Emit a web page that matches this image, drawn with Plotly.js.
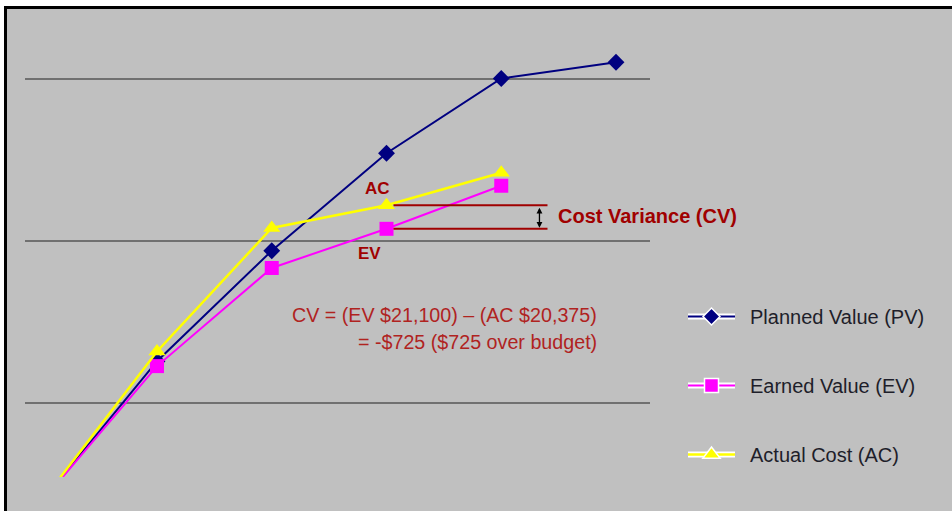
<!DOCTYPE html>
<html>
<head>
<meta charset="utf-8">
<script src="https://cdn.plot.ly/plotly-3.0.1.min.js"></script>
<style>
  html, body { margin: 0; padding: 0; background: #ffffff; width: 952px; height: 511px; overflow: hidden; }
  #frame { position: absolute; left: 4px; top: 6px; border-left: 3px solid #000; border-top: 3px solid #000; }
  #chart { width: 945px; height: 502px; }
</style>
</head>
<body>
<div id="frame"><div id="chart"></div></div>
<script>
// Reporting periods
const periods = [0, 1, 2, 3, 4, 5];

// Cumulative values in dollars
const plannedValue = [12000, 16300, 19700, 22700, 25000, 25500];
const earnedValue  = [12000, 16150, 19170, 20375, 21700];
const actualCost   = [12000, 16600, 20400, 21100, 22100];

// Series names shown in the legend
const seriesNames = ['Planned Value (PV)', 'Earned Value (EV)', 'Actual Cost (AC)'];

// Status date used for the variance callout
const statusPeriod = 3;

const formulaLine1 = 'CV = (EV $21,100) \u2013 (AC $20,375)';
const formulaLine2 = '= -$725 ($725 over budget)';

const FONT = 'Liberation Sans, Arial, Helvetica, sans-serif';
const DARK_RED = '#a00000';

// plot-area geometry inside the chart div
const M = { l: 18, r: 302, t: 11, b: 34 };
const PW = 945 - M.l - M.r, PH = 502 - M.t - M.b;
const px = x => (x - 7 - M.l) / PW;        // page x -> paper fraction
const py = y => 1 - (y - 9 - M.t) / PH;    // page y -> paper fraction

const traces = [
  {
    x: periods, y: plannedValue, name: seriesNames[0], type: 'scatter', mode: 'lines+markers',
    line: { color: '#000080', width: 2 },
    marker: { symbol: 'diamond', size: 13, color: '#000080' },
    legendgroup: 'pv'
  },
  {
    x: periods.slice(0, earnedValue.length), y: earnedValue, name: seriesNames[1], type: 'scatter', mode: 'lines+markers',
    line: { color: '#ff00ff', width: 2 },
    marker: { symbol: 'square', size: 14, color: '#ff00ff' },
    legendgroup: 'ev'
  },
  {
    x: periods.slice(0, actualCost.length), y: actualCost, name: seriesNames[2], type: 'scatter', mode: 'lines+markers',
    line: { color: '#ffff00', width: 2.5 },
    marker: { symbol: 'triangle-up', size: 15, color: '#ffff00' },
    legendgroup: 'ac'
  }
];

const acNow = actualCost[statusPeriod];
const evNow = earnedValue[statusPeriod];
const bracketX0 = statusPeriod + 0.061;
const bracketX1 = statusPeriod + 1.403;
const arrowX = statusPeriod + 1.333;

const layout = {
  width: 945, height: 502,
  margin: M,
  paper_bgcolor: '#c0c0c0',
  plot_bgcolor: '#c0c0c0',
  font: { family: FONT, size: 20, color: '#1e1e2a' },
  showlegend: true,
  legend: {
    x: px(683), y: py(297), xanchor: 'left', yanchor: 'top',
    bgcolor: 'rgba(0,0,0,0)', borderwidth: 0,
    font: { family: FONT, size: 20, color: '#1e1e2a' },
    traceorder: 'grouped', tracegroupgap: 40, itemwidth: 47
  },
  xaxis: {
    range: [-0.1503, 5.2963], showgrid: false, zeroline: false,
    showticklabels: false, ticks: '', showline: false, fixedrange: true
  },
  yaxis: {
    range: [12738, 26800], tick0: 0, dtick: 5000, showgrid: true,
    gridcolor: '#707070', gridwidth: 2, zeroline: false,
    showticklabels: false, ticks: '', showline: false, fixedrange: true
  },
  shapes: [
    { type: 'line', xref: 'x', yref: 'y', x0: bracketX0, x1: bracketX1, y0: acNow, y1: acNow,
      line: { color: DARK_RED, width: 2 } },
    { type: 'line', xref: 'x', yref: 'y', x0: bracketX0, x1: bracketX1, y0: evNow, y1: evNow,
      line: { color: DARK_RED, width: 2 } }
  ],
  annotations: [
    { x: statusPeriod, y: acNow, xref: 'x', yref: 'y', text: 'AC', showarrow: false,
      xshift: -9, yshift: 17, font: { family: FONT, size: 17, color: DARK_RED, weight: 'bold' } },
    { x: statusPeriod, y: evNow, xref: 'x', yref: 'y', text: 'EV', showarrow: false,
      xshift: -17, yshift: -25, font: { family: FONT, size: 17, color: DARK_RED, weight: 'bold' } },
    { x: arrowX, y: evNow, ax: arrowX, ay: acNow, xref: 'x', yref: 'y', axref: 'x', ayref: 'y',
      text: '', showarrow: true, arrowside: 'end+start', arrowhead: 2, arrowsize: 0.9,
      arrowwidth: 1.3, arrowcolor: '#000000', standoff: 1, startstandoff: 1 },
    { x: statusPeriod + 1.4735, y: (acNow + evNow) / 2, xref: 'x', yref: 'y', xanchor: 'left',
      yshift: 1, text: 'Cost Variance (CV)', showarrow: false,
      font: { family: FONT, size: 20, color: DARK_RED, weight: 'bold' } },
    { x: px(599), y: py(315), xref: 'paper', yref: 'paper', xanchor: 'right', yanchor: 'middle',
      text: formulaLine1, showarrow: false, font: { family: FONT, size: 19.7, color: '#b0231f' } },
    { x: px(599), y: py(342), xref: 'paper', yref: 'paper', xanchor: 'right', yanchor: 'middle',
      text: formulaLine2, showarrow: false, font: { family: FONT, size: 19.7, color: '#b0231f' } }
  ]
};

Plotly.newPlot('chart', traces, layout, { displayModeBar: false, staticPlot: true }).then(gd => {
  // legend keys: white outline round each line and marker, wider gap before the label
  const box = gd.querySelector('.legend .scrollbox');
  if (box) box.removeAttribute('clip-path');
  gd.querySelectorAll('.legend .traces').forEach(item => {
    item.querySelectorAll('.legendlines path').forEach(p => {
      const halo = p.cloneNode(true);
      halo.style.stroke = '#ffffff';
      halo.style.strokeWidth = '6px';
      halo.style.strokeOpacity = '1';
      p.parentNode.insertBefore(halo, p);
    });
    item.querySelectorAll('.legendpoints path').forEach(p => {
      p.style.stroke = '#ffffff';
      p.style.strokeWidth = '1.5px';
      p.style.strokeOpacity = '1';
    });
    const t = item.querySelector('.legendtext');
    if (t) t.setAttribute('x', String(parseFloat(t.getAttribute('x')) + 10));
  });
});
</script>
</body>
</html>
